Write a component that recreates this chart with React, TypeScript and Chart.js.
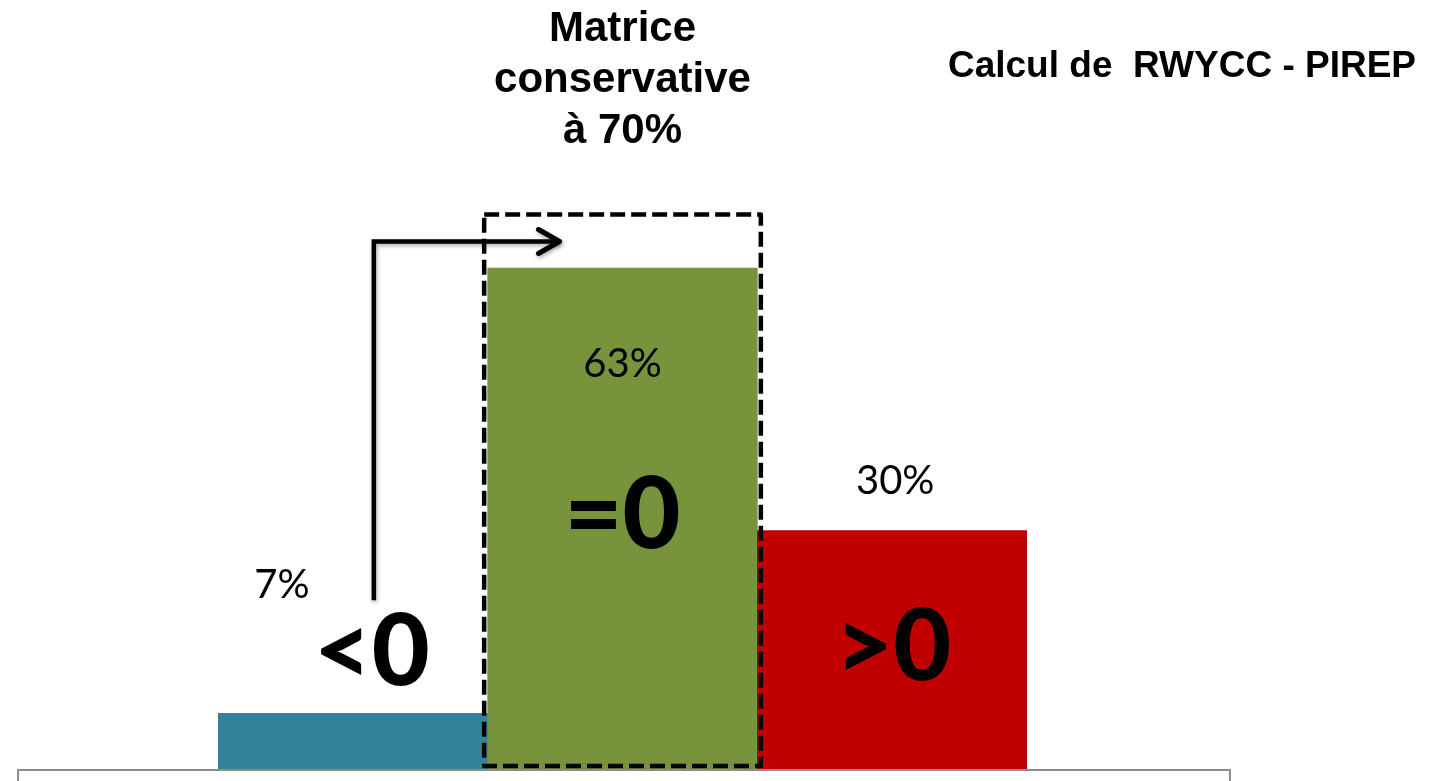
import React, { useEffect, useRef } from "react";
import { Chart, registerables } from "chart.js";

Chart.register(...registerables);

const categories = ["<0", "=0", ">0"];
const values = [7, 63, 30];
const valueLabels = ["7%", "63%", "30%"];
const barColors = ["#31849B", "#77933C", "#C00000"];
const matrixThreshold = 70;
const titleLines = ["Matrice", "conservative", "à 70%"];
const sideTitle = "Calcul de  RWYCC - PIREP";

const overlayPlugin = {
  id: "overlay",
  afterDatasetsDraw(chart: any) {
    const ctx = chart.ctx as CanvasRenderingContext2D;
    const meta = chart.getDatasetMeta(0);
    const bars = meta.data as any[];
    const yScale = chart.scales.y;
    const base = yScale.getPixelForValue(0);
    const b0 = bars[0], b1 = bars[1], b2 = bars[2];
    const half = (b: any) => b.width / 2;

    ctx.save();
    // gray frame below the bars
    ctx.strokeStyle = "#8c8c8c";
    ctx.lineWidth = 2;
    ctx.beginPath();
    ctx.moveTo(18, chart.height + 10);
    ctx.lineTo(18, base + 1);
    ctx.lineTo(1230, base + 1);
    ctx.lineTo(1230, chart.height + 10);
    ctx.stroke();

    // dashed rectangle around middle bar (up to 70%)
    const topY = yScale.getPixelForValue(matrixThreshold);
    ctx.strokeStyle = "#000";
    ctx.lineWidth = 4.5;
    ctx.lineJoin = "round";
    ctx.setLineDash([15, 6]);
    ctx.strokeRect(b1.x - half(b1) - 3.5, topY + 2, b1.width + 7, base - topY - 5);
    ctx.setLineDash([]);

    // arrow
    ctx.shadowColor = "rgba(0,0,0,0.35)";
    ctx.shadowBlur = 4;
    ctx.shadowOffsetX = 1;
    ctx.shadowOffsetY = 2;
    ctx.lineWidth = 4.5;
    ctx.lineCap = "butt";
    ctx.lineJoin = "miter";
    const ax = b0.x + 21;
    const ay = topY + 29;
    const tipX = b1.x - 63;
    ctx.beginPath();
    ctx.moveTo(ax, b0.y - 113);
    ctx.lineTo(ax, ay);
    ctx.lineTo(tipX, ay);
    ctx.stroke();
    ctx.lineWidth = 5;
    ctx.lineCap = "round";
    ctx.lineJoin = "round";
    ctx.beginPath();
    ctx.moveTo(tipX - 21, ay - 12);
    ctx.lineTo(tipX, ay);
    ctx.lineTo(tipX - 21, ay + 12);
    ctx.stroke();
    ctx.shadowColor = "transparent";
    ctx.shadowBlur = 0;
    ctx.shadowOffsetX = 0;
    ctx.shadowOffsetY = 0;

    // percent labels
    ctx.fillStyle = "#000";
    ctx.textAlign = "center";
    ctx.textBaseline = "alphabetic";
    ctx.font = "40px Lato, 'Open Sans', sans-serif";
    ctx.fillText(valueLabels[0], b0.x - 71, b0.y - 115);
    ctx.fillText(valueLabels[1], b1.x, b1.y + 109);
    ctx.fillText(valueLabels[2], b2.x + 3, b2.y - 37);

    // big category labels
    ctx.font = "900 100px Lato, 'Open Sans', sans-serif";
    ctx.fillText(categories[0], b0.x + 19, b0.y - 28);
    ctx.fillText(categories[1], b1.x, b1.y + 280);
    ctx.fillText(categories[2], b2.x + 1, b2.y + 149);

    // titles
    ctx.font = "bold 42px 'Liberation Sans', Arial, sans-serif";
    titleLines.forEach((t, i) => ctx.fillText(t, b1.x, 41 + i * 51));
    ctx.font = "bold 37px 'Liberation Sans', Arial, sans-serif";
    ctx.fillText(sideTitle, 1182, 77);
    ctx.restore();
  },
};

export default function App() {
  const ref = useRef<HTMLCanvasElement | null>(null);
  useEffect(() => {
    if (!ref.current) return;
    const chart = new Chart(ref.current, {
      type: "bar",
      data: {
        labels: categories,
        datasets: [
          {
            data: values,
            backgroundColor: barColors,
            borderWidth: 0,
            barPercentage: 1,
            categoryPercentage: 1,
          },
        ],
      },
      options: {
        animation: false,
        responsive: false,
        maintainAspectRatio: false,
        layout: { padding: { left: 218, right: 409, top: 133, bottom: 12 } },
        plugins: { legend: { display: false }, tooltip: { enabled: false }, title: { display: false } },
        scales: {
          x: { display: false, offset: true, grid: { display: false } },
          y: { display: false, min: 0, max: 80, grid: { display: false } },
        },
      },
      plugins: [overlayPlugin],
    });
    return () => chart.destroy();
  }, []);
  return (
    <div style={{ position: "fixed", left: 0, top: 0, width: 1436, height: 781, background: "#fff" }}>
      <canvas ref={ref} width={1436} height={781} style={{ width: 1436, height: 781, display: "block" }} />
    </div>
  );
}
